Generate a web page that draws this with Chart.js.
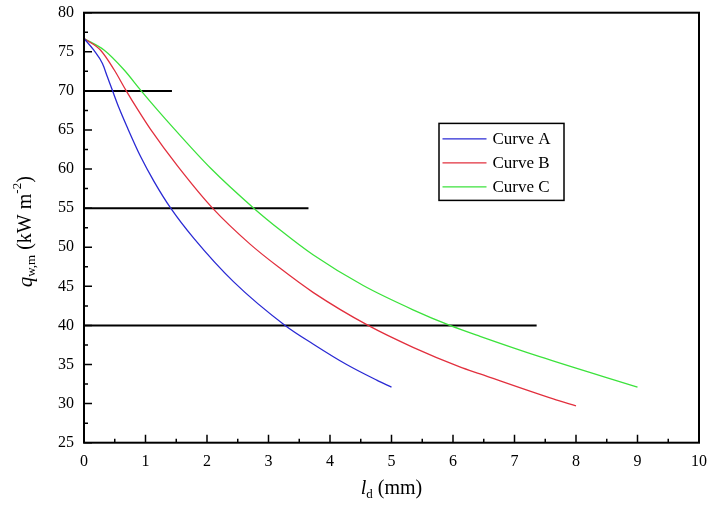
<!DOCTYPE html>
<html>
<head>
<meta charset="utf-8">
<script src="https://cdn.jsdelivr.net/npm/chart.js@4"></script>
<style>
  body { margin: 0; background: #fff; }
  #wrap { width: 709px; height: 508px; }
</style>
</head>
<body>
<div id="wrap"><canvas id="qwChart"></canvas></div>
<script>
// heat flux q_w,m against distance l_d for the three curves
const curveNames = ['Curve A', 'Curve B', 'Curve C'];
const curveColors = ['#2a2ad4', '#e2303e', '#3ce23c'];

const ldA = [0, 0.16, 0.30, 0.38, 0.46, 0.57, 0.70, 0.92, 1.14, 1.41, 1.79, 2.43, 3.27, 3.73, 4.27, 4.76, 5.0];
const qA  = [76.7, 75.2, 73.5, 71.8, 70.1, 67.8, 65.4, 61.6, 58.4, 55.0, 51.1, 45.6, 40.0, 37.6, 35.0, 33.0, 32.1];

const ldB = [0, 0.27, 0.49, 0.68, 0.89, 1.08, 1.52, 2.09, 2.70, 3.19, 3.73, 4.62, 5.35, 6.11, 6.44, 7.63, 8.0];
const qB  = [76.7, 75.2, 72.7, 70.1, 67.4, 65.1, 60.4, 55.0, 50.4, 47.3, 44.2, 40.0, 37.2, 34.7, 33.8, 30.6, 29.7];

const ldC = [0, 0.33, 0.65, 0.92, 1.19, 1.46, 2.06, 2.76, 3.19, 3.73, 4.54, 5.35, 5.95, 6.44, 7.41, 9.0];
const qC  = [76.7, 75.2, 72.7, 70.1, 67.6, 65.2, 60.1, 55.0, 52.2, 49.0, 45.1, 42.0, 40.0, 38.6, 36.0, 32.1];

// black reference levels and where each one stops
const refLevels = [70, 55, 40];
const refEnds = [1.43, 3.65, 7.36];

const xMin = 0, xMax = 10, xStep = 1;
const yMin = 25, yMax = 80, yStep = 5;

const serif = '"Liberation Serif", "Times New Roman", serif';

function toPoints(xs, ys) {
    return xs.map((v, i) => ({ x: v, y: ys[i] }));
}

const curveSets = [[ldA, qA], [ldB, qB], [ldC, qC]].map((s, i) => ({
    label: curveNames[i],
    data: toPoints(s[0], s[1]),
    borderColor: curveColors[i],
    borderWidth: 1.3,
    pointRadius: 0,
    cubicInterpolationMode: 'monotone',
    fill: false
}));

const refSets = refLevels.map((lv, i) => ({
    label: '',
    data: [{ x: 0, y: lv }, { x: refEnds[i], y: lv }],
    borderColor: '#000',
    borderWidth: 2,
    pointRadius: 0,
    fill: false
}));

// draw a run of text pieces (italic, sub/superscript) centred on x
function drawRich(ctx, parts, cx, cy) {
    let total = 0;
    parts.forEach(p => {
        ctx.font = (p.italic ? 'italic ' : '') + p.size + 'px ' + serif;
        p.w = ctx.measureText(p.t).width;
        total += p.w;
    });
    let x = cx - total / 2;
    ctx.textBaseline = 'middle';
    ctx.textAlign = 'left';
    parts.forEach(p => {
        ctx.font = (p.italic ? 'italic ' : '') + p.size + 'px ' + serif;
        ctx.fillText(p.t, x, cy + (p.shift || 0));
        x += p.w;
    });
}

const framePlugin = {
    id: 'framePlugin',
    afterDraw(chart) {
        const { ctx, chartArea: a, scales: { x, y } } = chart;
        ctx.save();
        ctx.strokeStyle = '#000';
        ctx.lineWidth = 1.5;
        ctx.beginPath();
        for (let v = xMin; v <= xMax; v += xStep / 2) {
            const px = x.getPixelForValue(v);
            const len = Math.abs(v % xStep) < 1e-6 ? 8 : 4;
            ctx.moveTo(px, a.bottom);
            ctx.lineTo(px, a.bottom - len);
        }
        for (let v = yMin; v <= yMax; v += yStep / 2) {
            const py = y.getPixelForValue(v);
            const len = Math.abs(v % yStep) < 1e-6 ? 8 : 4;
            ctx.moveTo(a.left, py);
            ctx.lineTo(a.left + len, py);
        }
        ctx.stroke();
        ctx.lineWidth = 2;
        ctx.strokeRect(a.left, a.top, a.right - a.left, a.bottom - a.top);

        // legend box
        const bx = a.left + 355, by = a.top + 110.7, bw = 125, bh = 77;
        ctx.lineWidth = 1.5;
        ctx.strokeRect(bx, by, bw, bh);
        ctx.font = '17px ' + serif;
        ctx.fillStyle = '#000';
        ctx.textBaseline = 'middle';
        ctx.textAlign = 'left';
        curveSets.forEach((ds, i) => {
            const ry = by + 15.5 + i * 24;
            ctx.strokeStyle = ds.borderColor;
            ctx.lineWidth = 1.3;
            ctx.beginPath();
            ctx.moveTo(bx + 3.5, ry);
            ctx.lineTo(bx + 47.5, ry);
            ctx.stroke();
            ctx.fillText(ds.label, bx + 53.5, ry + 1);
        });

        // axis titles
        ctx.fillStyle = '#000';
        drawRich(ctx, [
            { t: 'l', italic: true, size: 20 },
            { t: 'd', size: 13, shift: 6 },
            { t: ' (mm)', size: 20 }
        ], (a.left + a.right) / 2, 489);

        ctx.translate(26, (a.top + a.bottom) / 2 + 4);
        ctx.rotate(-Math.PI / 2);
        drawRich(ctx, [
            { t: 'q', italic: true, size: 21 },
            { t: 'w,m', size: 13, shift: 6 },
            { t: ' (kW m', size: 20 },
            { t: '-2', size: 13, shift: -8 },
            { t: ')', size: 20 }
        ], 0, 0);
        ctx.restore();
    }
};

new Chart(document.getElementById('qwChart'), {
    type: 'line',
    data: { datasets: curveSets.concat(refSets) },
    options: {
        responsive: true,
        maintainAspectRatio: false,
        animation: false,
        layout: { padding: { left: 0, right: 10, top: 12.7, bottom: 0 } },
        plugins: {
            legend: { display: false },
            tooltip: { enabled: false }
        },
        scales: {
            x: {
                type: 'linear',
                min: xMin,
                max: xMax,
                grid: { display: false, drawTicks: false },
                border: { display: false },
                ticks: {
                    stepSize: xStep,
                    padding: 9,
                    color: '#000',
                    font: { family: serif, size: 16 }
                },
                afterFit: s => {
                    s.height = 65.3;
                    s.paddingLeft = 0;
                    s.paddingRight = 0;
                }
            },
            y: {
                min: yMin,
                max: yMax,
                grid: { display: false, drawTicks: false },
                border: { display: false },
                ticks: {
                    stepSize: yStep,
                    padding: 10,
                    color: '#000',
                    font: { family: serif, size: 16 }
                },
                afterFit: s => {
                    s.width = 84;
                    s.paddingTop = 0;
                    s.paddingBottom = 0;
                }
            }
        }
    },
    plugins: [framePlugin]
});
</script>
</body>
</html>
